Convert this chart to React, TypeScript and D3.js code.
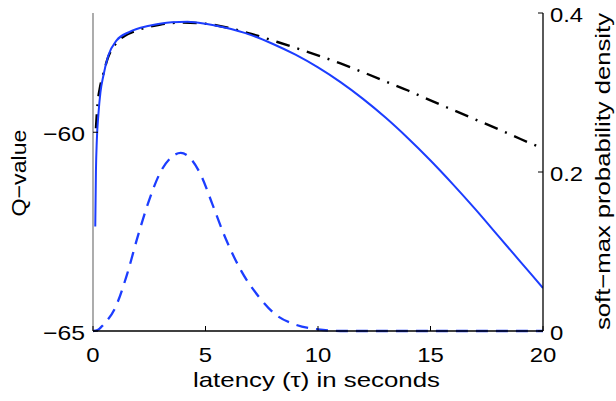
import React from "react";
import * as d3 from "d3";

const qTimes = [0.1, 0.13, 0.17, 0.24, 0.33, 0.46, 0.68, 1.05, 1.6, 2.5, 3.5, 4.2, 5.0, 5.8, 7.0, 8.0, 9.0, 10.0, 11.0, 12.0, 13.0, 14.0, 15.0, 16.0, 17.0, 18.0, 19.0, 20.0];
const qValues = [-62.37, -61.0, -60.2, -59.55, -59.0, -58.58, -58.07, -57.69, -57.48, -57.32, -57.23, -57.22, -57.27, -57.36, -57.55, -57.78, -58.05, -58.37, -58.74, -59.16, -59.63, -60.15, -60.71, -61.31, -61.94, -62.6, -63.26, -63.92];

const approxTimes = [0.13, 0.2, 0.3, 0.45, 0.65, 1.0, 1.4, 2.0, 3.0, 4.0, 5.0, 6.0, 7.0, 8.2, 9.5, 11, 12, 13, 14, 15, 16, 17, 18, 19, 20];
const approxValues = [-59.9, -59.3, -58.9, -58.55, -58.15, -57.78, -57.58, -57.43, -57.29, -57.24, -57.27, -57.37, -57.52, -57.73, -57.97, -58.27, -58.49, -58.72, -58.95, -59.2, -59.44, -59.68, -59.92, -60.17, -60.41];

const densityTimes = [0, 0.2, 0.46, 1.0, 1.5, 2.0, 2.5, 3.0, 3.5, 3.9, 4.3, 4.8, 5.3, 5.9, 6.6, 7.4, 8.1, 9.0, 10.0, 11.0, 15.0, 20.0];
const densityValues = [0, 0.001, 0.008, 0.03, 0.07, 0.12, 0.165, 0.2, 0.219, 0.224, 0.218, 0.196, 0.16, 0.116, 0.075, 0.042, 0.021, 0.008, 0.002, 0, 0, 0];

const xTicks = [0, 5, 10, 15, 20];
const leftTicks = [-65, -60];
const rightTicks = [0, 0.2, 0.4];
const xTickLabels = ["0", "5", "10", "15", "20"];
const leftTickLabels = ["\u221265", "\u221260"];
const rightTickLabels = ["0", "0.2", "0.4"];

const W = 616, H = 401;
const L = 93, R = 543, T = 13, B = 331;
const FONT = "'Liberation Sans', Arial, Helvetica, sans-serif";
const BLUE = "#1c3dff";

export default function App() {
  const x = d3.scaleLinear().domain([0, 20]).range([L, R]);
  const yL = d3.scaleLinear().domain([-65, -57]).range([B, T]);
  const yR = d3.scaleLinear().domain([0, 0.4]).range([B, T]);

  const qLine = d3.line<number>().x((_, i) => x(qTimes[i])).y((v) => yL(v)).curve(d3.curveMonotoneX);
  const aLine = d3.line<number>().x((_, i) => x(approxTimes[i])).y((v) => yL(v)).curve(d3.curveMonotoneX);
  const dLine = d3.line<number>().x((_, i) => x(densityTimes[i])).y((v) => yR(v)).curve(d3.curveMonotoneX);

  const digitW = (s: string) => {
    let w = 0;
    for (const c of s) w += c === "." ? 6.5 : c === "\u2212" ? 16 : 13.3;
    return w;
  };

  return (
    <svg width={W} height={H} style={{ position: "absolute", left: 0, top: 0, background: "#fff" }} fontFamily={FONT}>
      <defs>
        <clipPath id="plot">
          <rect x={L} y={T - 2} width={R - L} height={B - T + 4} />
        </clipPath>
      </defs>
      <g clipPath="url(#plot)" fill="none">
        <path d={dLine(densityValues) || ""} stroke={BLUE} strokeWidth={2.3} strokeDasharray="12,8" />
        <path d={aLine(approxValues) || ""} stroke="#000" strokeWidth={2.4} strokeDasharray="14,8,2,8" />
        <path d={qLine(qValues) || ""} stroke={BLUE} strokeWidth={2} />
      </g>
      <line x1={L} x2={L} y1={T} y2={B} stroke="#808080" strokeWidth={1.3} />
      <line x1={R} x2={R} y1={T} y2={B} stroke="#000" strokeWidth={1.3} />
      <line x1={L} x2={R} y1={B} y2={B} stroke="#000" strokeWidth={1.3} />
      {xTicks.map((t, i) => (
        <g key={"x" + i}>
          <line x1={x(t)} x2={x(t)} y1={B} y2={B - 5} stroke="#000" strokeWidth={1} />
          <text x={x(t)} y={362} fontSize={21} textAnchor="middle" textLength={digitW(xTickLabels[i])} lengthAdjust="spacingAndGlyphs">
            {xTickLabels[i]}
          </text>
        </g>
      ))}
      {leftTicks.map((t, i) => (
        <g key={"l" + i}>
          <line x1={L} x2={L + 5} y1={yL(t)} y2={yL(t)} stroke="#000" strokeWidth={1} />
          <text x={85} y={yL(t) + 8.5} fontSize={21} textAnchor="end" textLength={42} lengthAdjust="spacingAndGlyphs">
            {leftTickLabels[i]}
          </text>
        </g>
      ))}
      {rightTicks.map((t, i) => (
        <g key={"r" + i}>
          <line x1={R} x2={R - 5} y1={yR(t)} y2={yR(t)} stroke="#000" strokeWidth={1} />
          <text x={550} y={yR(t) + 9} fontSize={21} textAnchor="start" textLength={digitW(rightTickLabels[i])} lengthAdjust="spacingAndGlyphs">
            {rightTickLabels[i]}
          </text>
        </g>
      ))}
      <text x={316.5} y={386.5} fontSize={21} textAnchor="middle" textLength={247} lengthAdjust="spacingAndGlyphs">
        latency (τ) in seconds
      </text>
      <text transform="translate(26,173) rotate(-90)" fontSize={21} textAnchor="middle" textLength={87} lengthAdjust="spacingAndGlyphs">
        Q−value
      </text>
      <text transform="translate(610,171.5) rotate(-90)" fontSize={21} textAnchor="middle" textLength={317} lengthAdjust="spacingAndGlyphs">
        soft−max probability density
      </text>
    </svg>
  );
}
